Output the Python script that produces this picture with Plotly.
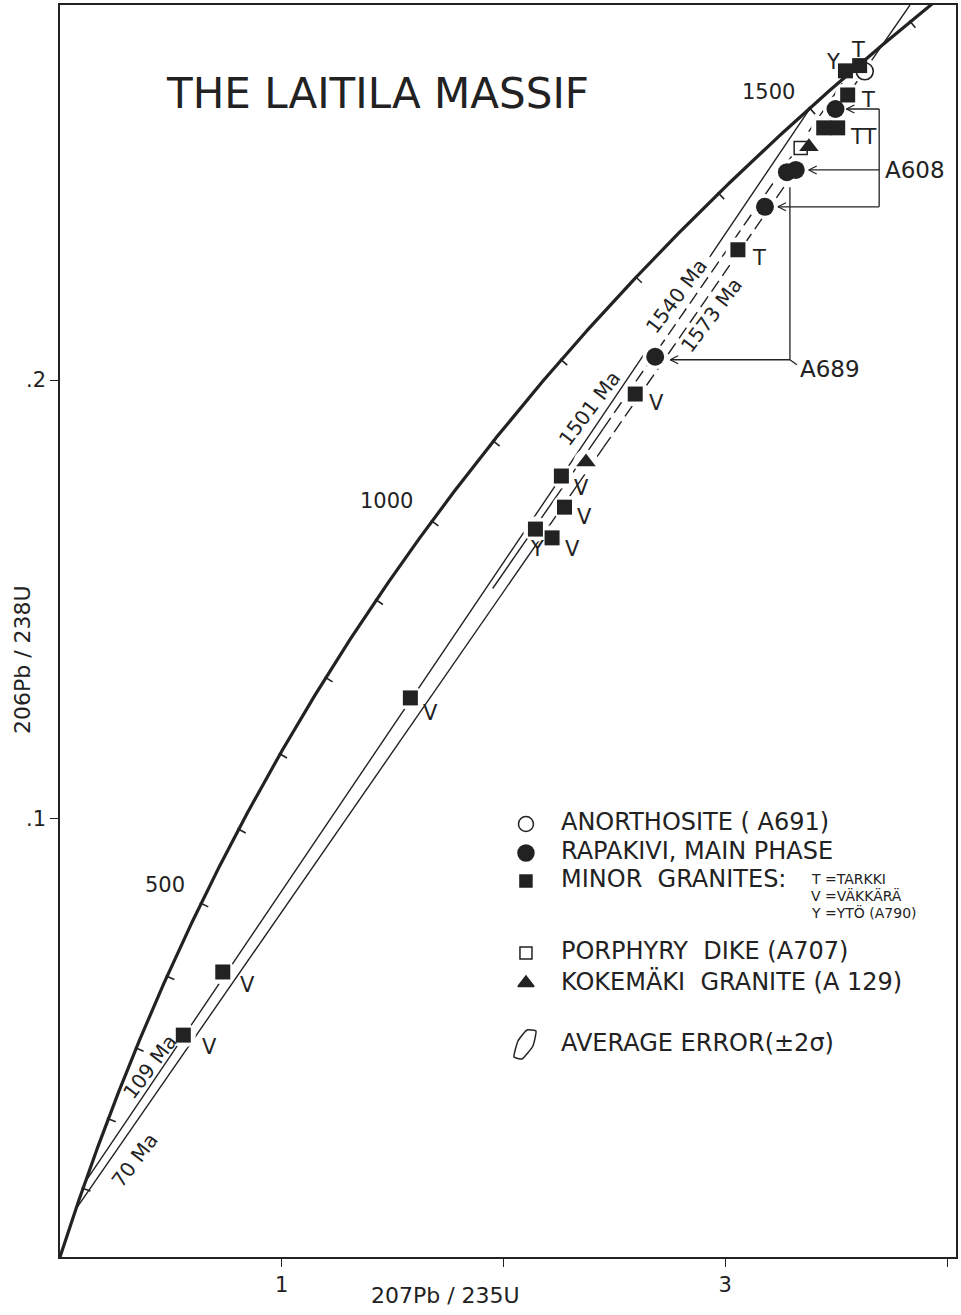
import numpy as np
import plotly.graph_objects as go

# U-Pb decay constants (1/yr)
L238 = 1.55125e-10
L235 = 9.8485e-10

# ---------------------------------------------------------------- data
# minor granites (filled squares) and their locality letters
minor_x = [0.556, 0.734, 1.580, 2.144, 2.219, 2.275, 2.261, 2.594, 3.057, 3.444, 3.507, 3.552, 3.542, 3.606]
minor_y = [0.0506, 0.0650, 0.1275, 0.1660, 0.1640, 0.1710, 0.1781, 0.1968, 0.2297, 0.2575, 0.2575, 0.2650, 0.2705, 0.2717]
minor_tag = ["V", "V", "V", "Y", "V", "V", "V", "V", "T", "", "TT", "T", "Y", "T"]

# rapakivi, main phase (filled circles): A689, A608 ...
rapakivi_x = [2.684, 3.179, 3.278, 3.318, 3.497]
rapakivi_y = [0.2053, 0.2395, 0.2474, 0.2479, 0.2618]

anorthosite_x = [3.629]
anorthosite_y = [0.2704]
porphyry_x = [3.340]
porphyry_y = [0.2529]
kokemaki_x = [3.377, 2.372]
kokemaki_y = [0.2532, 0.1813]

# concordia age marks (Ma)
tick_ages = list(range(100, 1700, 100))
labelled_ages = [500, 1000, 1500]

# discordia chords: lower / upper intercept ages (Ma)
chord_lower = [109, 123, 70]
chord_upper = [1501, 1540, 1573]

x_ticks = [1, 2, 3, 4]
x_ticklabels = ["1", "", "3", ""]
y_ticks = [0.1, 0.2]
y_ticklabels = [".1", ".2"]

# ---------------------------------------------------------------- frame geometry
W, H = 961, 1315
ML, MR, MT, MB = 60, 3, 5, 58
X0, XS = float(ML), 222.25          # px of x=0, px per unit
Y0, YS = float(H - MB), 4385.0      # px of y=0, px per unit
XMAX = (W - MR - X0) / XS
YMAX = (Y0 - MT) / YS

def to_data(px, py):
    return (px - X0) / XS, (Y0 - py) / YS

def to_px(x, y):
    return X0 + x * XS, Y0 - y * YS

def concordia(t_ma):
    t = np.asarray(t_ma, dtype=float) * 1e6
    return np.exp(L235 * t) - 1, np.exp(L238 * t) - 1

INK = "#222222"
FONT = "DejaVu Sans"

fig = go.Figure()

# ---------------------------------------------------------------- discordia chords
def chord(i):
    x1, y1 = concordia(chord_lower[i])
    x2, y2 = concordia(chord_upper[i])
    s = (y2 - y1) / (x2 - x1)
    return float(x1), float(y1), float(x2), float(y2), float(s)

def add_segment(i, xa, xb, dash="solid"):
    x1, y1, x2, y2, s = chord(i)
    xs = [xa, xb]
    ys = [y1 + s * (xa - x1), y1 + s * (xb - x1)]
    fig.add_trace(go.Scatter(x=xs, y=ys, mode="lines",
                             line=dict(color=INK, width=1.4, dash=dash),
                             hoverinfo="skip", showlegend=False))

c0 = chord(0)
add_segment(0, c0[0], 2.632)
add_segment(0, 2.930, c0[2])

add_segment(1, 1.951, 2.45)
add_segment(1, 2.45, chord(1)[2], dash="13px,6px")

c2 = chord(2)
x_top = c2[0] + (YMAX - c2[1]) / c2[4]
add_segment(2, c2[0], 2.45)
add_segment(2, 2.45, 3.66, dash="13px,6px")
add_segment(2, 3.66, x_top)

# white halos open small gaps in the chords around the analyses
all_x = minor_x + rapakivi_x + anorthosite_x + porphyry_x + kokemaki_x
all_y = minor_y + rapakivi_y + anorthosite_y + porphyry_y + kokemaki_y
fig.add_trace(go.Scatter(x=all_x, y=all_y, mode="markers",
                         marker=dict(symbol="circle", size=25, color="white"),
                         hoverinfo="skip", showlegend=False))

# ---------------------------------------------------------------- concordia
tt = np.linspace(0, 1700, 900)
cx, cy = concordia(tt)
fig.add_trace(go.Scatter(x=cx, y=cy, mode="lines",
                         line=dict(color=INK, width=3.2),
                         hoverinfo="skip", showlegend=False))

# age marks: short strokes perpendicular to the curve
tkx, tky = [], []
for a in tick_ages:
    t = a * 1e6
    x, y = concordia(a)
    dx = L235 * np.exp(L235 * t)
    dy = L238 * np.exp(L238 * t)
    vx, vy = dx * XS, -dy * YS            # tangent in screen px
    n = np.hypot(vx, vy)
    nx, ny = vy / n, -vx / n              # normal (screen)
    if nx < 0:
        nx, ny = -nx, -ny
    px, py = to_px(float(x), float(y))
    a1 = to_data(px - 1.5 * nx, py - 1.5 * ny)
    a2 = to_data(px + 8 * nx, py + 8 * ny)
    tkx += [a1[0], a2[0], None]
    tky += [a1[1], a2[1], None]
fig.add_trace(go.Scatter(x=tkx, y=tky, mode="lines",
                         line=dict(color=INK, width=1.6),
                         hoverinfo="skip", showlegend=False))

# ---------------------------------------------------------------- analyses
fig.add_trace(go.Scatter(x=anorthosite_x, y=anorthosite_y, mode="markers",
                         marker=dict(symbol="circle", size=17, color="white",
                                     line=dict(color=INK, width=1.6)),
                         showlegend=False))
fig.add_trace(go.Scatter(x=porphyry_x, y=porphyry_y, mode="markers",
                         marker=dict(symbol="square", size=13, color="white",
                                     line=dict(color=INK, width=1.5)),
                         showlegend=False))
fig.add_trace(go.Scatter(x=kokemaki_x, y=kokemaki_y, mode="markers",
                         marker=dict(symbol="triangle-up", size=17, color=INK),
                         showlegend=False))
fig.add_trace(go.Scatter(x=rapakivi_x, y=rapakivi_y, mode="markers",
                         marker=dict(symbol="circle", size=18, color=INK),
                         showlegend=False))
fig.add_trace(go.Scatter(x=minor_x, y=minor_y, mode="markers",
                         marker=dict(symbol="square", size=15, color=INK),
                         showlegend=False))

annotations = []

# locality letters beside the minor granite squares (px offsets)
tag_dx = [26, 25, 20, 2, 20, 20, 20, 21, 21, 0, 25, 20, -12, -2]
tag_dy = [12, 13, 15, 20, 11, 10, 12, 9, 8, 0, 9, 5, -9, -16]
for x, y, tag, dx, dy in zip(minor_x, minor_y, minor_tag, tag_dx, tag_dy):
    if tag:
        annotations.append(dict(x=x, y=y, text=tag, showarrow=False,
                                xshift=dx, yshift=-dy,
                                font=dict(family=FONT, size=21, color=INK)))

# concordia age labels
age_dx = {500: -36, 1000: -45, 1500: -41}
age_dy = {500: -18, 1000: -20, 1500: -16}
for a in labelled_ages:
    x, y = concordia(a)
    annotations.append(dict(x=float(x), y=float(y), text=str(a), showarrow=False,
                            xshift=age_dx[a], yshift=-age_dy[a],
                            font=dict(family=FONT, size=21, color=INK)))

# chord age labels, written along the lines
def line_label(text, px, py, size=20):
    x, y = to_data(px, py)
    annotations.append(dict(x=x, y=y, text=text, showarrow=False, textangle=-53,
                            font=dict(family=FONT, size=size, color=INK)))

line_label(f"{chord_lower[0]} Ma", 150, 1067)
line_label(f"{chord_lower[2]} Ma", 135, 1160)
line_label(f"{chord_upper[0]} Ma", 591, 408)
line_label(f"{chord_upper[1]} Ma", 678, 296)
line_label(f"{chord_upper[2]} Ma", 713, 315)

# ---------------------------------------------------------------- sample leaders
shapes = []

def seg_px(p, q, width=1.3):
    a = to_data(*p)
    b = to_data(*q)
    shapes.append(dict(type="line", xref="x", yref="y",
                       x0=a[0], y0=a[1], x1=b[0], y1=b[1],
                       line=dict(color=INK, width=width)))

def arrow_left(tip):
    seg_px(tip, (tip[0] + 8, tip[1] - 4))
    seg_px(tip, (tip[0] + 8, tip[1] + 4))

r_px = [to_px(x, y) for x, y in zip(rapakivi_x, rapakivi_y)]

# A608
bx = 881
top_tip = (r_px[4][0] + 11, r_px[4][1])
mid_tip = (r_px[3][0] + 13, r_px[3][1])
bot_tip = (r_px[1][0] + 13, r_px[1][1])
seg_px((bx, top_tip[1]), top_tip)
seg_px((bx, bot_tip[1]), bot_tip)
seg_px((bx, top_tip[1]), (bx, bot_tip[1]))
seg_px((bx, mid_tip[1]), mid_tip)
for tip in (top_tip, mid_tip, bot_tip):
    arrow_left(tip)
xa, ya = to_data(885, mid_tip[1])
annotations.append(dict(x=xa, y=ya, text="A608", showarrow=False, xanchor="left",
                        font=dict(family=FONT, size=23, color=INK)))

# A689
vx = r_px[2][0] + 3
corner_y = r_px[0][1] + 3
a689_tip = (r_px[0][0] + 15, corner_y)
seg_px((vx, r_px[2][1] + 15), (vx, corner_y))
seg_px((vx, corner_y), a689_tip)
seg_px((vx, corner_y), (vx + 7, corner_y + 5))
arrow_left(a689_tip)
xa, ya = to_data(800, corner_y + 9)
annotations.append(dict(x=xa, y=ya, text="A689", showarrow=False, xanchor="left",
                        font=dict(family=FONT, size=23, color=INK)))

# ---------------------------------------------------------------- key
key_font = dict(family=FONT, size=24, color=INK)
key_rows = [
    (824, "circle", "white", 15, "ANORTHOSITE ( A691)"),
    (853, "circle", INK, 16, "RAPAKIVI, MAIN PHASE"),
    (881, "square", INK, 12, "MINOR  GRANITES:"),
    (953, "square", "white", 12, "PORPHYRY  DIKE (A707)"),
    (983, "triangle-up", INK, 14, "KOKEMÄKI  GRANITE (A 129)"),
]
for py, sym, col, sz, txt in key_rows:
    mx, my = to_data(527, py)
    fig.add_trace(go.Scatter(x=[mx], y=[my], mode="markers",
                             marker=dict(symbol=sym, size=sz, color=col,
                                         line=dict(color=INK, width=1.5)),
                             hoverinfo="skip", showlegend=False))
    tx, ty = to_data(560, py - 2)
    annotations.append(dict(x=tx, y=ty, text=txt, showarrow=False, xanchor="left",
                            font=key_font))

for py, txt in [(879, "T =TARKKI"), (895, "V =VÄKKÄRÄ"), (912, "Y =YTÖ (A790)")]:
    tx, ty = to_data(811, py)
    annotations.append(dict(x=tx, y=ty, text=txt, showarrow=False, xanchor="left",
                            font=dict(family=FONT, size=14, color=INK)))

# average error outline
err_px = [(515, 1057), (519, 1041), (528, 1030), (537, 1031), (534, 1046), (523, 1059), (515, 1057)]
ex, ey = zip(*[to_data(p, q) for p, q in err_px])
fig.add_trace(go.Scatter(x=list(ex), y=list(ey), mode="lines",
                         line=dict(color=INK, width=1.5, shape="spline", smoothing=0.4),
                         hoverinfo="skip", showlegend=False))
tx, ty = to_data(560, 1043)
annotations.append(dict(x=tx, y=ty, text="AVERAGE ERROR(±2σ)", showarrow=False,
                        xanchor="left", font=key_font))

# title and axis names
tx, ty = to_data(378, 93)
annotations.append(dict(x=tx, y=ty, text="THE LAITILA MASSIF", showarrow=False,
                        font=dict(family=FONT, size=42, color=INK)))
annotations.append(dict(xref="paper", yref="paper", x=(446 - ML) / (W - ML - MR),
                        y=-(1295 - Y0) / (Y0 - MT), xanchor="center", yanchor="middle",
                        text="207Pb / 235U",
                        showarrow=False, font=dict(family=FONT, size=22, color=INK)))
annotations.append(dict(xref="paper", yref="paper", x=-(ML - 22) / (W - ML - MR),
                        y=(Y0 - 660) / (Y0 - MT), xanchor="center", yanchor="middle",
                        text="206Pb / 238U", textangle=-90,
                        showarrow=False, font=dict(family=FONT, size=22, color=INK)))

axis_common = dict(showgrid=False, zeroline=False, showline=True, mirror=True,
                   linecolor=INK, linewidth=1.5, ticks="outside", ticklen=8,
                   tickwidth=1.3, tickcolor=INK,
                   tickfont=dict(family=FONT, size=21, color=INK))

fig.update_layout(
    width=W, height=H,
    margin=dict(l=ML, r=MR, t=MT, b=MB),
    paper_bgcolor="white", plot_bgcolor="white",
    xaxis=dict(range=[0, XMAX], tickvals=x_ticks, ticktext=x_ticklabels, **axis_common),
    yaxis=dict(range=[0, YMAX], tickvals=y_ticks, ticktext=y_ticklabels, **axis_common),
    annotations=annotations,
    shapes=shapes,
    showlegend=False,
)

fig.write_html("out.html")
